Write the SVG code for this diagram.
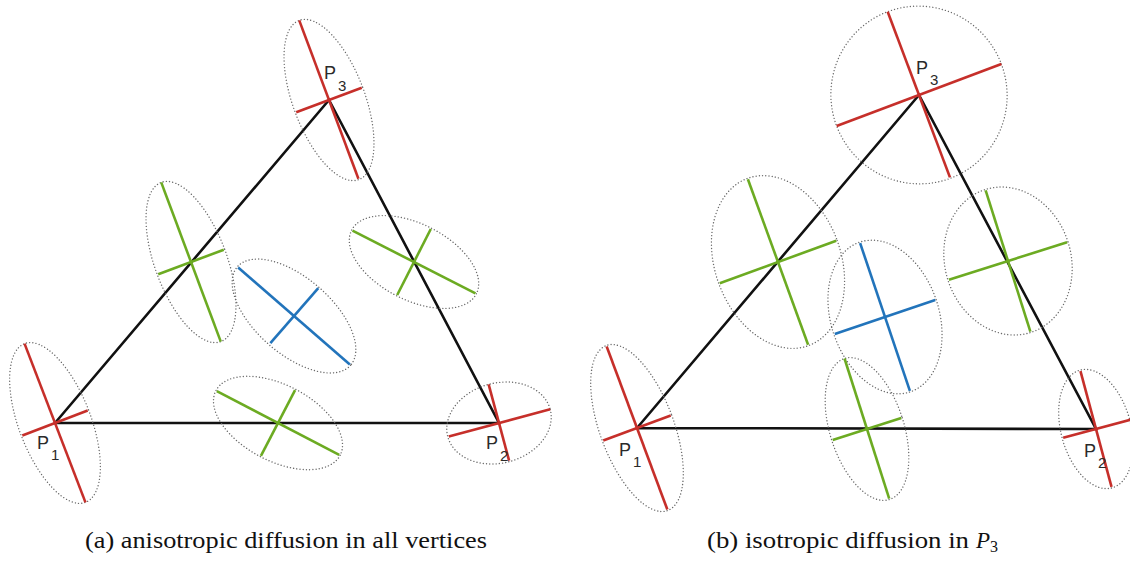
<svg xmlns="http://www.w3.org/2000/svg" width="1130" height="562" viewBox="0 0 1130 562">
<style>
.ell{fill:none;stroke:#6a6a6a;stroke-width:1.4;stroke-dasharray:0.01 3.2;stroke-linecap:round}
.edge{stroke:#111;stroke-width:2.6;fill:none;stroke-linecap:round}
.r{stroke:#c62f2a;stroke-width:2.6}
.g{stroke:#6cab22;stroke-width:2.6}
.b{stroke:#2274bb;stroke-width:2.6}
.lbl{font-family:"Liberation Sans",Arial,sans-serif;font-size:18px;fill:#2a2a2a}
.sub{font-family:"Liberation Sans",Arial,sans-serif;font-size:15px;fill:#2a2a2a}
.cap{font-family:"Liberation Serif","Times New Roman",serif;font-size:23px;fill:#111}
</style>
<rect width="1130" height="562" fill="#fff"/>

<!-- connectors (triangle edges) -->
<g id="connectors">
  <polyline class="edge" points="55,423 499,423 329,100 55,423"/>
  <polyline class="edge" points="637,428 1096,429 919,95 637,428"/>
</g>

<!-- left diagram nodes -->
<g id="a-P1" transform="translate(55,423) rotate(-21)">
  <ellipse class="ell" rx="36" ry="85"/>
  <line class="r" x1="-35" y1="0" x2="35" y2="0"/>
  <line class="r" x1="0" y1="-85" x2="0" y2="85"/>
</g>
<g id="a-P2" transform="translate(499,423) rotate(-15)">
  <ellipse class="ell" rx="53" ry="40"/>
  <line class="r" x1="-52" y1="0" x2="53" y2="0"/>
  <line class="r" x1="0" y1="-40" x2="0" y2="39"/>
</g>
<g id="a-P3" transform="translate(329,100) rotate(-20.5)">
  <ellipse class="ell" rx="36" ry="85"/>
  <line class="r" x1="-35" y1="0" x2="35" y2="0"/>
  <line class="r" x1="0" y1="-85" x2="0" y2="84"/>
</g>
<g id="a-E13" transform="translate(191,262) rotate(-20.5)">
  <ellipse class="ell" rx="36" ry="85"/>
  <line class="g" x1="-35" y1="0" x2="35" y2="0"/>
  <line class="g" x1="0" y1="-85" x2="0" y2="85"/>
</g>
<g id="a-C" transform="translate(294,316) rotate(41)">
  <ellipse class="ell" rx="75" ry="38"/>
  <line class="b" x1="-74" y1="0" x2="74" y2="0"/>
  <line class="b" x1="0" y1="-37" x2="0" y2="36"/>
</g>
<g id="a-E23" transform="translate(414,262) rotate(27)">
  <ellipse class="ell" rx="70" ry="38"/>
  <line class="g" x1="-69" y1="0" x2="69" y2="0"/>
  <line class="g" x1="0" y1="-37" x2="0" y2="37"/>
</g>
<g id="a-E12" transform="translate(278,423) rotate(27.5)">
  <ellipse class="ell" rx="70" ry="38"/>
  <line class="g" x1="-69" y1="0" x2="69" y2="0"/>
  <line class="g" x1="0" y1="-37" x2="0" y2="37"/>
</g>
<g id="a-labels">
  <text class="lbl" x="37" y="449">P</text><text class="sub" x="51" y="460">1</text>
  <text class="lbl" x="486" y="449">P</text><text class="sub" x="500" y="461">2</text>
  <text class="lbl" x="324" y="79">P</text><text class="sub" x="338" y="91">3</text>
</g>

<!-- right diagram nodes -->
<g id="b-P1" transform="translate(637,428) rotate(-20.4)">
  <ellipse class="ell" rx="37" ry="88"/>
  <line class="r" x1="-36" y1="0" x2="36" y2="0"/>
  <line class="r" x1="0" y1="-87" x2="0" y2="87"/>
</g>
<g id="b-P2" transform="translate(1096,429) rotate(-15)">
  <ellipse class="ell" rx="35" ry="61"/>
  <line class="r" x1="-34" y1="0" x2="36" y2="0"/>
  <line class="r" x1="0" y1="-60" x2="0" y2="60"/>
</g>
<g id="b-P3" transform="translate(919,95) rotate(-20.6)">
  <ellipse class="ell" rx="88" ry="89"/>
  <line class="r" x1="-88" y1="0" x2="88" y2="0"/>
  <line class="r" x1="0" y1="-89" x2="0" y2="88"/>
</g>
<g id="b-E13" transform="translate(778,262) rotate(-20)">
  <ellipse class="ell" rx="63" ry="89"/>
  <line class="g" x1="-62" y1="0" x2="62" y2="0"/>
  <line class="g" x1="0" y1="-88" x2="0" y2="88"/>
</g>
<g id="b-C" transform="translate(885,317) rotate(-18.6)">
  <ellipse class="ell" rx="54" ry="79"/>
  <line class="b" x1="-53" y1="0" x2="53" y2="0"/>
  <line class="b" x1="0" y1="-78" x2="0" y2="78"/>
</g>
<g id="b-E23" transform="translate(1008,261) rotate(-17.6)">
  <ellipse class="ell" rx="63" ry="75"/>
  <line class="g" x1="-62" y1="0" x2="62" y2="0"/>
  <line class="g" x1="0" y1="-74" x2="0" y2="74"/>
</g>
<g id="b-E12" transform="translate(867,429) rotate(-17.7)">
  <ellipse class="ell" rx="37" ry="74"/>
  <line class="g" x1="-36" y1="0" x2="36" y2="0"/>
  <line class="g" x1="0" y1="-74" x2="0" y2="73"/>
</g>
<g id="b-labels">
  <text class="lbl" x="619" y="456">P</text><text class="sub" x="633" y="467">1</text>
  <text class="lbl" x="1084" y="457">P</text><text class="sub" x="1098" y="468">2</text>
  <text class="lbl" x="916" y="74">P</text><text class="sub" x="930" y="85">3</text>
</g>

<!-- captions -->
<g id="captions">
  <text class="cap" x="85" y="548" textLength="402" lengthAdjust="spacingAndGlyphs">(a)  anisotropic diffusion in all vertices</text>
  <text class="cap" x="707" y="548" textLength="262" lengthAdjust="spacingAndGlyphs">(b)  isotropic diffusion in</text>
  <text class="cap" x="976" y="548" style="font-style:italic">P</text>
  <text class="cap" x="990" y="552" style="font-size:16px">3</text>
</g>
</svg>
